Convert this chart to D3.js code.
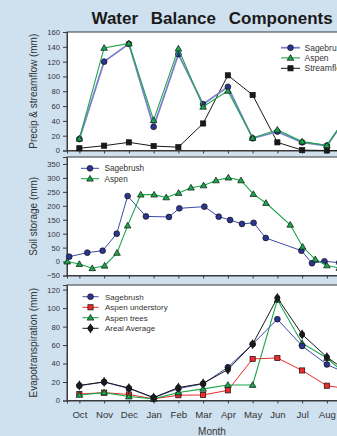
<!DOCTYPE html>
<html>
<head>
<meta charset="utf-8">
<script src="https://cdn.jsdelivr.net/npm/d3@7"></script>
<style>
  html, body { margin: 0; padding: 0; background: #cfe0ef; overflow: hidden; }
  svg { display: block; font-family: "Liberation Sans", Arial, Helvetica, sans-serif; }
</style>
</head>
<body>
<svg id="chart" width="337" height="436"></svg>
<script>
// Monthly categories (water year, Oct–Sep)
const months = ["Oct", "Nov", "Dec", "Jan", "Feb", "Mar", "Apr", "May", "Jun", "Jul", "Aug", "Sep"];

// Panel 1: precipitation and streamflow (mm)
const precipSage  = [15.5, 120, 144, 32, 130, 62.5, 86, 16.5, 25.5, 11, 6.5, 54];
const precipAspen = [16, 138.5, 144.5, 41, 137.5, 59, 80.5, 17, 28, 12, 7, 56];
const streamflow  = [3, 6.5, 11, 6, 4.5, 36.5, 101.5, 75, 11, 0.5, 0, 0];

// Panel 2: soil storage (mm), sampled on survey dates (month index, Oct = 0)
const soilSageT  = [-0.41, 0.32, 0.94, 1.51, 1.95, 2.69, 3.62, 4.04, 5.05, 5.63, 6.09, 6.57, 7.04, 7.53, 8.97, 9.40, 9.90, 10.5];
const soilSage   = [17.5, 32, 39, 100, 235, 162, 160, 191, 197, 161, 149, 135, 139, 84.5, 39, -6, 1, -4];
const soilAspenT = [-0.49, 0, 0.52, 1.02, 1.52, 1.95, 2.48, 3.02, 3.51, 4.01, 4.51, 5.02, 5.52, 6.02, 6.53, 7.03, 7.54, 8.52, 9.02, 9.53, 10.0, 10.5];
const soilAspen  = [0, -9, -24, -15, 31, 129, 240, 240, 230, 246, 265, 273, 291, 301, 291, 242, 210, 132, 53, 8, -14, -23];

// Panel 3: evapotranspiration (mm)
const etSage  = [16, 20, 13, 3, 13, 18, 36, 61, 88, 59, 39, 27];
const etUnder = [7, 8.5, 6.5, 1.8, 5.7, 6, 11, 45, 46, 32.5, 16, 12];
const etTrees = [6, 8.5, 4.3, 1.8, 8.6, 12.6, 16.8, 16.8, 109, 62, 46, 23];
const etAvg   = [16.3, 20.2, 13.5, 3.2, 14, 18.5, 33.5, 61, 111, 71.5, 47, 28];

// Tick values
const precipTicks = [0, 20, 40, 60, 80, 100, 120, 140, 160];
const soilTicks   = [-50, 0, 50, 100, 150, 200, 250, 300, 350];
const etTicks     = [0, 20, 40, 60, 80, 100, 120];

const svg = d3.select("#chart");
const C = {
  sageFill: "#2b3590", sageLine: "#3f4aa8", sageLineLight: "#7b80cc",
  green: "#1aa64a", red: "#ee2a2a", black: "#1a1a1a", axis: "#3a3a3a", text: "#333"
};

const x = d3.scaleLinear().domain([-0.5, 11.5]).range([67, 364]);

// Title
svg.append("text")
  .attr("x", 91.5).attr("y", 23.5)
  .attr("font-size", 17).attr("font-weight", "bold")
  .attr("word-spacing", 8)
  .attr("fill", "#1a1a1a")
  .text("Water Balance Components");

const panels = [
  { top: 32, bottom: 150.5, domain: [0, 160], ticks: precipTicks, title: "Precip & streamflow (mm)" },
  { top: 157, bottom: 275.5, domain: [-50, 375], ticks: soilTicks, title: "Soil storage (mm)" },
  { top: 285, bottom: 400.5, domain: [0, 125], ticks: etTicks, title: "Evapotranspiration (mm)" }
];

panels.forEach((p, i) => {
  p.y = d3.scaleLinear().domain(p.domain).range([p.bottom, p.top]);
  const g = svg.append("g");
  g.append("rect")
    .attr("x", x.range()[0]).attr("y", p.top)
    .attr("width", x.range()[1] - x.range()[0]).attr("height", p.bottom - p.top)
    .attr("fill", "#fff").attr("stroke", C.axis).attr("stroke-width", 1);

  const ya = g.append("g").attr("transform", `translate(${x.range()[0]},0)`)
    .call(d3.axisLeft(p.y).tickValues(p.ticks).tickSize(4).tickPadding(3));
  ya.select(".domain").attr("stroke", C.axis);
  ya.selectAll(".tick line").attr("stroke", C.axis);
  ya.selectAll("text").attr("font-size", 7.6).attr("fill", C.text).attr("font-family", null);

  const xa = g.append("g").attr("transform", `translate(0,${p.bottom})`)
    .call(d3.axisBottom(x).tickValues(d3.range(12)).tickSize(3).tickPadding(7.5)
      .tickFormat(i === 2 ? (d => months[d]) : ""));
  xa.select(".domain").attr("stroke", C.axis);
  xa.selectAll(".tick line").attr("stroke", C.axis);
  xa.selectAll("text").attr("font-size", 9.6).attr("fill", C.text).attr("font-family", null);

  svg.append("text")
    .attr("transform", `translate(33.5,${(p.top + p.bottom) / 2}) rotate(-90)`)
    .attr("text-anchor", "middle").attr("dy", "0.35em")
    .attr("font-size", 10).attr("fill", C.text)
    .text(p.title);
});

svg.append("text")
  .attr("x", 212).attr("y", 435)
  .attr("text-anchor", "middle")
  .attr("font-size", 10).attr("fill", C.text)
  .text("Month");

// Marker painters
function marker(g, type, cx, cy, fill) {
  if (type === "circle") {
    g.append("circle").attr("cx", cx).attr("cy", cy).attr("r", 2.9)
      .attr("fill", fill).attr("stroke", "#111").attr("stroke-width", 0.7);
  } else if (type === "square") {
    g.append("rect").attr("x", cx - 2.6).attr("y", cy - 2.6).attr("width", 5.2).attr("height", 5.2)
      .attr("fill", fill).attr("stroke", "#111").attr("stroke-width", 0.7);
  } else if (type === "triangle") {
    g.append("path").attr("transform", `translate(${cx},${cy + 0.5})`)
      .attr("d", d3.symbol(d3.symbolTriangle, 19)())
      .attr("fill", fill).attr("stroke", "#111").attr("stroke-width", 0.7);
  } else if (type === "diamond") {
    g.append("path").attr("transform", `translate(${cx},${cy})`)
      .attr("d", d3.symbol(d3.symbolDiamond, 30)()).attr("fill", fill);
    g.append("circle").attr("cx", cx).attr("cy", cy).attr("r", 2.9).attr("fill", fill);
  }
}

function series(p, xs, ys, color, width, type, fill) {
  const g = svg.append("g");
  const pts = xs.map((t, i) => [x(t), p.y(ys[i])]);
  g.append("path")
    .attr("d", d3.line()(pts))
    .attr("fill", "none").attr("stroke", color).attr("stroke-width", width);
  pts.forEach(([cx, cy]) => marker(g, type, cx, cy, fill));
}

function legend(items, lx0, lx1, tx, ys, fs) {
  items.forEach((it, i) => {
    const g = svg.append("g");
    g.append("line").attr("x1", lx0).attr("x2", lx1).attr("y1", ys[i]).attr("y2", ys[i])
      .attr("stroke", it.color).attr("stroke-width", it.width);
    marker(g, it.type, (lx0 + lx1) / 2, ys[i], it.fill);
    g.append("text").attr("x", tx).attr("y", ys[i]).attr("dy", "0.35em")
      .attr("font-size", fs).attr("fill", C.text).text(it.label);
  });
}

const mIdx = d3.range(12);
const [P1, P2, P3] = panels;

// Panel 1
series(P1, mIdx, streamflow, C.black, 1, "square", C.black);
series(P1, mIdx, precipSage, C.sageLineLight, 1.8, "circle", C.sageFill);
series(P1, mIdx, precipAspen, C.green, 1.1, "triangle", C.green);
legend([
  { label: "Sagebrush", color: C.sageLineLight, width: 1.8, type: "circle", fill: C.sageFill },
  { label: "Aspen", color: C.green, width: 1.1, type: "triangle", fill: C.green },
  { label: "Streamflow", color: C.black, width: 1, type: "square", fill: C.black }
], 281, 300, 304.5, [47.7, 57.9, 68.3], 8.5);

// Panel 2
series(P2, soilSageT, soilSage, C.sageLine, 1, "circle", C.sageFill);
series(P2, soilAspenT, soilAspen, C.green, 1.1, "triangle", C.green);
legend([
  { label: "Sagebrush", color: C.sageLine, width: 1, type: "circle", fill: C.sageFill },
  { label: "Aspen", color: C.green, width: 1.1, type: "triangle", fill: C.green }
], 81, 99, 104.5, [168.3, 178.7], 8.2);

// Panel 3
series(P3, mIdx, etUnder, C.red, 1, "square", C.red);
series(P3, mIdx, etTrees, C.green, 1.1, "triangle", C.green);
series(P3, mIdx, etSage, C.sageLine, 1, "circle", C.sageFill);
series(P3, mIdx, etAvg, C.black, 1, "diamond", C.black);
legend([
  { label: "Sagebrush", color: C.sageLine, width: 1, type: "circle", fill: C.sageFill },
  { label: "Aspen understory", color: C.red, width: 1, type: "square", fill: C.red },
  { label: "Aspen trees", color: C.green, width: 1.1, type: "triangle", fill: C.green },
  { label: "Areal Average", color: C.black, width: 1, type: "diamond", fill: C.black }
], 82.5, 98.5, 105, [296.7, 307.3, 317.7, 328.3], 8);
</script>
</body>
</html>
